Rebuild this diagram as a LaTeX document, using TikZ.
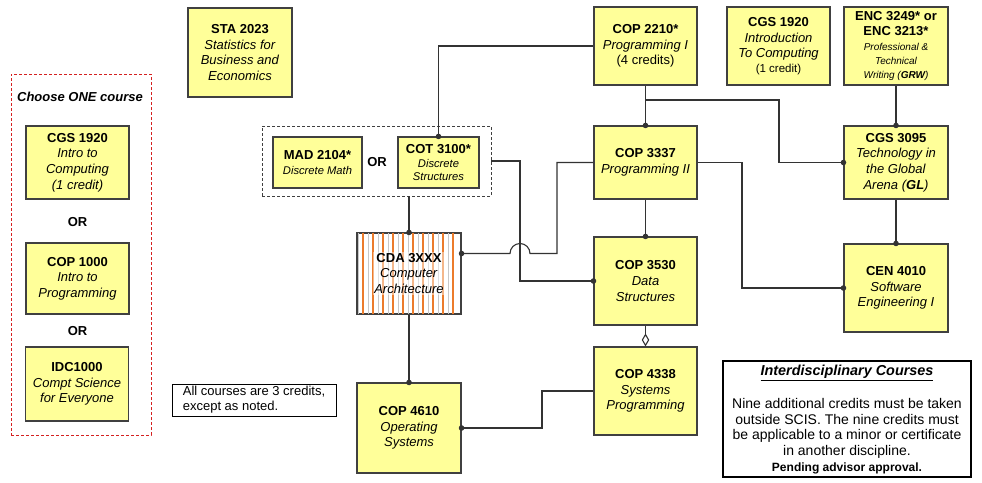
\documentclass[tikz,border=0pt]{standalone}
\usepackage{fontspec}
\setmainfont{Liberation Sans}
\usetikzlibrary{arrows.meta,calc}
\definecolor{boxfill}{HTML}{FFFF99}
\definecolor{boxline}{HTML}{404040}
\definecolor{wirecol}{HTML}{333333}
\definecolor{hatchcol}{HTML}{EC7C2C}
\definecolor{hatchgray}{HTML}{C8C8C8}
\definecolor{reddash}{HTML}{D42020}
\newcommand{\tsz}{\fontsize{13}{15.6}\selectfont}
\newcommand{\ssz}{\fontsize{11.2}{14}\selectfont}
\newcommand{\xsz}{\fontsize{10}{14}\selectfont}
\begin{document}
\begin{tikzpicture}[x=1pt,y=-1pt,
  box/.style={draw=boxline, fill=boxfill, line width=1.1pt, align=center, inner sep=1pt, font=\tsz},
  wh/.style 2 args={minimum width=#1pt, minimum height=#2pt},
  wire/.style={draw=wirecol, line width=1.1pt},
  dotend/.style={wire, -{Circle[length=5.5pt]}, shorten >=-2.75pt},
  dotstart/.style={wire, {Circle[length=5.5pt]}-, shorten <=-2.75pt},
  boldlabel/.style={font=\tsz\bfseries},
  hatchline/.style={draw=hatchcol, line width=1.1pt},
  hatchthin/.style={draw=hatchgray, line width=0.6pt},
]
\useasboundingbox (0,0) rectangle (982,482);

% left choice group
\node[draw=reddash, dashed, dash pattern=on 3pt off 2pt, line width=0.8pt, wh={140}{361}] (choose) at (81,254.5) {};
\node[font=\tsz\bfseries\itshape] (choosetitle) at (80,97) {Choose ONE course};
\node[box, wh={103}{73}] (cgsA) at (77.5,162.5) {\textbf{CGS 1920}\\\textit{Intro to}\\\textit{Computing}\\\textit{(1 credit)}};
\node[boldlabel] (orA) at (77.5,222) {OR};
\node[box, wh={103}{71}] (cop1000) at (77.5,278.5) {\textbf{COP 1000}\\\textit{Intro to}\\\textit{Programming}};
\node[boldlabel] (orB) at (77.5,331) {OR};
\node[box, wh={103}{74}] (idc) at (77,384) {\textbf{IDC1000}\\\textit{Compt Science}\\\textit{for Everyone}};

% STA
\node[box, wh={104}{89}] (sta) at (240,52.5) {\textbf{STA 2023}\\\textit{Statistics for}\\\textit{Business and}\\\textit{Economics}};

% discrete group
\node[draw=boxline, dashed, dash pattern=on 3pt off 2pt, line width=0.9pt, wh={229}{70}] (disc) at (376.5,161) {};
\node[box, wh={89}{51}] (mad) at (317.5,162.5) {\textbf{MAD 2104*}\\{\ssz\itshape Discrete Math}};
\node[boldlabel] (orC) at (377,162) {OR};
\node[box, wh={81}{51}] (cot) at (438.5,162.5) {\textbf{COT 3100*}\\[-1.5pt]{\ssz\itshape Discrete}\\[-2pt]{\ssz\itshape Structures}};

% top row
\node[box, wh={103}{78}] (cop2210) at (645.5,46) {\textbf{COP 2210*}\\\textit{Programming I}\\(4 credits)};
\node[box, wh={103}{78}] (cgsB) at (778.5,46) {\textbf{CGS 1920}\\\textit{Introduction}\\\textit{To Computing}\\[-1pt]{\fontsize{11.5}{14}\selectfont (1 credit)}};
\node[box, wh={104}{78}] (enc) at (896,46) {\textbf{ENC 3249* or}\\[-0.6pt]\textbf{ENC 3213*}\\[-0.5pt]{\xsz\itshape Professional \&}\\[-2pt]{\xsz\itshape Technical}\\[-2pt]{\xsz\itshape Writing (\textbf{GRW})}};

% middle
\node[box, wh={103}{73}] (cop3337) at (645.5,162.5) {\textbf{COP 3337}\\\textit{Programming II}};
\node[box, wh={104}{73}] (cgs3095) at (896,162.5) {\textbf{CGS 3095}\\\textit{Technology in}\\\textit{the Global}\\\textit{Arena (\textbf{GL})}};

% CDA with vertical hatching
\node[box, fill=white, wh={104}{81}] (cda) at (409,273.5) {};
\foreach \k in {0,...,9}{
  \draw[hatchthin] ($(cda.north west)+(1.5+\k*10,0)$) -- ($(cda.south west)+(1.5+\k*10,0)$);
  \draw[hatchline] ($(cda.north west)+(6.5+\k*10,0)$) -- ($(cda.south west)+(6.5+\k*10,0)$);
}
\draw[draw=boxline, line width=1.1pt] (cda.north west) rectangle (cda.south east);
\node[align=center, inner sep=1pt, font=\tsz, fill=white, fill opacity=0.45, text opacity=1] (cdatext) at (cda.center) {\textbf{CDA 3XXX}\\\textit{Computer}\\\textit{Architecture}};

\node[box, wh={103}{88}] (cop3530) at (645.5,281) {\textbf{COP 3530}\\\textit{Data}\\\textit{Structures}};
\node[box, wh={104}{88}] (cen4010) at (896,288) {\textbf{CEN 4010}\\\textit{Software}\\\textit{Engineering I}};

% bottom
\node[box, wh={103}{88}] (cop4338) at (645.5,391) {\textbf{COP 4338}\\\textit{Systems}\\\textit{Programming}};
\node[box, wh={104}{90}] (cop4610) at (409,428) {\textbf{COP 4610}\\\textit{Operating}\\\textit{Systems}};

% notes
\node[draw=black, line width=0.9pt, wh={164}{32}, align=left, inner sep=2pt, font=\fontsize{13}{15}\selectfont] (note) at (254,400) {All courses are 3 credits,\\except as noted.};
\node[draw=black, line width=1.6pt, wh={248}{116}] (inter) at (847,419) {};
\node[font=\fontsize{14.4}{17}\selectfont\bfseries\itshape] (intertitle) at (847,373) {\underline{Interdisciplinary Courses}};
\node[align=center, inner sep=0pt, font=\fontsize{14}{15.6}\selectfont] (interbody) at (847,436) {Nine additional credits must be taken\\outside SCIS. The nine credits must\\be applicable to a minor or certificate\\in another discipline.\\{\fontsize{12}{15.6}\selectfont\bfseries Pending advisor approval.}};

% connectors
\coordinate (br) at (645.5,100);
\draw[dotstart] (cot.north) |- (cop2210.west);
\draw[dotend] (cop2210.south) -- (cop3337.north);
\draw[dotend] (br) -- (779,100) |- (cgs3095.west);
\draw[dotend] (enc.south) -- (cgs3095.north);
\draw[dotend] (cgs3095.south) -- (cen4010.north);
\draw[dotend] (cop3337.east) -- (742,162.5) |- (cen4010.west);
\draw[dotend] (cop3337.south) -- (cop3530.north);
\draw[wire, -{Diamond[length=13pt, width=7.5pt, fill=white]}] (cop3530.south) -- (cop4338.north);
\draw[dotend] (disc.south -| cda.north) -- (cda.north);
\draw[dotend] (disc.east) -- (520,161) |- (cop3530.west);
\draw[dotstart] ($(cda.east)+(0,-20)$) -- (510,253.5) arc[start angle=180, end angle=0, radius=10pt] -- (557,253.5) |- (cop3337.west);
\draw[dotend] (cda.south) -- (cop4610.north);
\draw[dotend] (cop4338.west) -- (542,391) |- (cop4610.east);
\end{tikzpicture}
\end{document}
